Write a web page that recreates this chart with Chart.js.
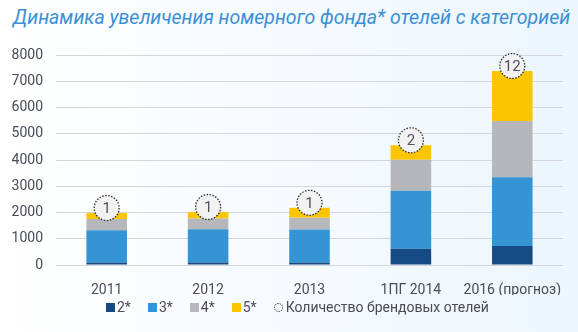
<!DOCTYPE html>
<html lang="ru">
<head>
  <meta charset="UTF-8" />
  <title>Номерной фонд отелей</title>
  <script src="https://cdn.jsdelivr.net/npm/chart.js"></script>
  <style>
    html, body { margin: 0; padding: 0; }
    body {
      width: 578px; height: 332px; overflow: hidden; position: relative;
      background: linear-gradient(to right, #ffffff 0%, #f6fbfe 45%, #edf6fd 100%);
      font-family: Roboto, sans-serif;
    }
    #title {
      position: absolute; left: 13px; top: 6px;
      font: italic 19.5px Roboto, sans-serif; color: #3b8fd6; white-space: nowrap;
    }
    #wrap { position: absolute; left: 0; top: 0; width: 578px; height: 332px; }
    #legend {
      position: absolute; left: 106px; top: 298px; height: 18px;
      display: flex; align-items: center; font-size: 14px; color: #4a4a58;
    }
    #legend .item { display: flex; align-items: center; margin-right: 17px; }
    #legend .box { width: 9px; height: 9px; margin-right: 2px; }
    #legend .ring {
      width: 7px; height: 7px; border-radius: 50%; border: 1px dotted #333;
      background: #f3f3f3; margin-right: 3px;
    }
  </style>
</head>
<body>
  <div id="title">Динамика увеличения номерного фонда* отелей с категорией</div>
  <div id="wrap"><canvas id="chart" width="578" height="332"></canvas></div>
  <div id="legend"></div>

  <script>
    const categories = ['2011', '2012', '2013', '1ПГ 2014', '2016 (прогноз)'];
    const stars2 = [100, 100, 100, 620, 720];
    const stars3 = [1220, 1260, 1250, 2210, 2620];
    const stars4 = [430, 410, 450, 1180, 2150];
    const stars5 = [230, 250, 380, 550, 1900];
    const brandHotels = [1, 1, 1, 2, 12];
    const yTicks = [0, 1000, 2000, 3000, 4000, 5000, 6000, 7000, 8000];

    const series = [
      { label: '2*', data: stars2, color: '#154a84' },
      { label: '3*', data: stars3, color: '#3494d4' },
      { label: '4*', data: stars4, color: '#b6b7ba' },
      { label: '5*', data: stars5, color: '#fbc500' }
    ];

    // кружки с количеством брендовых отелей над столбцами
    const brandCircles = {
      id: 'brandCircles',
      afterDatasetsDraw(chart) {
        const ctx = chart.ctx;
        const y = chart.scales.y;
        const meta = chart.getDatasetMeta(0);
        ctx.save();
        brandHotels.forEach((n, i) => {
          const total = stars2[i] + stars3[i] + stars4[i] + stars5[i];
          const cx = meta.data[i].x;
          const cy = y.getPixelForValue(total) - 5;
          ctx.beginPath();
          ctx.arc(cx, cy, 12.5, 0, Math.PI * 2);
          ctx.fillStyle = '#f2f2f2';
          ctx.fill();
          ctx.setLineDash([1.5, 1.5]);
          ctx.lineWidth = 1.3;
          ctx.strokeStyle = '#2a2a2a';
          ctx.stroke();
          ctx.setLineDash([]);
          ctx.fillStyle = '#50505e';
          ctx.font = '15px Roboto, sans-serif';
          ctx.textAlign = 'center';
          ctx.textBaseline = 'middle';
          ctx.fillText(String(n), cx, cy + 1);
        });
        ctx.restore();
      }
    };

    new Chart(document.getElementById('chart'), {
      type: 'bar',
      data: {
        labels: categories,
        datasets: series.map(s => ({
          label: s.label,
          data: s.data,
          backgroundColor: s.color,
          borderWidth: 0,
          barPercentage: 0.4,
          categoryPercentage: 1
        }))
      },
      options: {
        responsive: false,
        animation: false,
        layout: { padding: { left: 0, right: 15, top: 55, bottom: 37 } },
        plugins: {
          legend: { display: false },
          tooltip: { enabled: false }
        },
        scales: {
          x: {
            stacked: true,
            grid: { display: false },
            border: { display: false },
            ticks: {
              color: '#4a4a58', font: { family: 'Roboto', size: 14 }, padding: 9,
              maxRotation: 0, minRotation: 0, autoSkip: false
            },
            afterFit: axis => { axis.height = 30; }
          },
          y: {
            stacked: true,
            min: 0,
            max: 8000,
            afterBuildTicks: axis => { axis.ticks = yTicks.map(v => ({ value: v })); },
            grid: { color: '#d4d6d9', lineWidth: 1, drawTicks: false },
            border: { display: false },
            ticks: {
              color: '#4a4a58', font: { family: 'Roboto', size: 14 }, padding: 13,
              callback: v => String(v)
            },
            afterFit: axis => { axis.width = 56; }
          }
        }
      },
      plugins: [brandCircles]
    });

    // легенда под графиком
    const legend = document.getElementById('legend');
    series.forEach(s => {
      const item = document.createElement('div');
      item.className = 'item';
      item.innerHTML = '<span class="box" style="background:' + s.color + '"></span>' + s.label;
      legend.appendChild(item);
    });
    const brandItem = document.createElement('div');
    brandItem.className = 'item';
    brandItem.innerHTML = '<span class="ring"></span>Количество брендовых отелей';
    legend.appendChild(brandItem);
  </script>
</body>
</html>
